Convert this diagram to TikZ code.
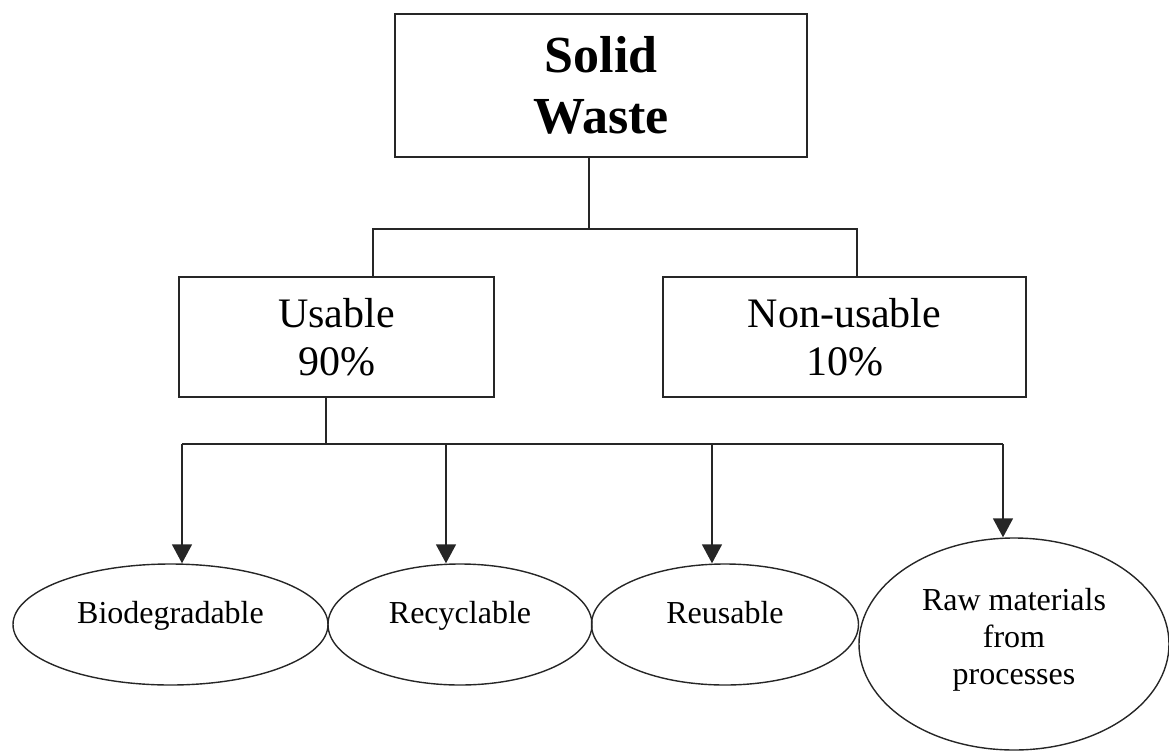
\documentclass[tikz,border=0pt]{standalone}
\usepackage{fontspec}
\setmainfont{Liberation Serif}
\usetikzlibrary{shapes.geometric,arrows.meta}
\begin{document}
\begin{tikzpicture}[x=0.5pt,y=-0.5pt,
  box/.style={draw=black!85, line width=0.8pt, inner sep=0pt, align=center},
  oval/.style={draw=black!85, ellipse, line width=0.7pt, inner sep=0pt, align=center,
    font=\fontsize{16}{18.5}\selectfont, text depth=12pt},
  link/.style={draw=black!85, line width=0.8pt},
  arr/.style={link, -{Triangle[width=10pt,length=9.5pt]}}]
\useasboundingbox (0,0) rectangle (1169,751);
\node[box, minimum width=206pt, minimum height=71.5pt, font=\fontsize{26}{30.5}\selectfont\bfseries] (solid) at (601,85.5) {Solid\\Waste};
\node[box, minimum width=157.5pt, minimum height=60pt, font=\fontsize{21}{24}\selectfont] (usable) at (336.5,337) {Usable\\90\%};
\node[box, minimum width=181.5pt, minimum height=60pt, font=\fontsize{21}{24}\selectfont] (nonusable) at (844.5,337) {Non-usable\\10\%};
\node[oval, minimum width=157.5pt, minimum height=60.5pt] (bio) at (170.5,624.5) {Biodegradable};
\node[oval, minimum width=132pt, minimum height=60.5pt] (rec) at (460,624.5) {Recyclable};
\node[oval, minimum width=133.5pt, minimum height=60.5pt] (reu) at (725,624.5) {Reusable};
\node[oval, minimum width=155pt, minimum height=106pt, text depth=8pt] (raw) at (1014,644) {Raw materials\\from\\processes};
\coordinate (top) at (589,229);
\coordinate (topl) at (373,229);
\coordinate (topr) at (857,229);
\coordinate (low) at (326,444);
\coordinate (lowa) at (182,444);
\coordinate (lowb) at (446,444);
\coordinate (lowc) at (712,444);
\coordinate (lowd) at (1003,444);
\draw[link] (top |- solid.south) -- (top);
\draw[link] (topl |- usable.north) -- (topl) -- (topr) -- (topr |- nonusable.north);
\draw[link] (low |- usable.south) -- (low);
\draw[link] (lowa) -- (lowd);
\draw[arr] (lowa) -- (lowa |- bio.north);
\draw[arr] (lowb) -- (lowb |- rec.north);
\draw[arr] (lowc) -- (lowc |- reu.north);
\draw[arr] (lowd) -- (lowd |- raw.north);
\end{tikzpicture}
\end{document}
